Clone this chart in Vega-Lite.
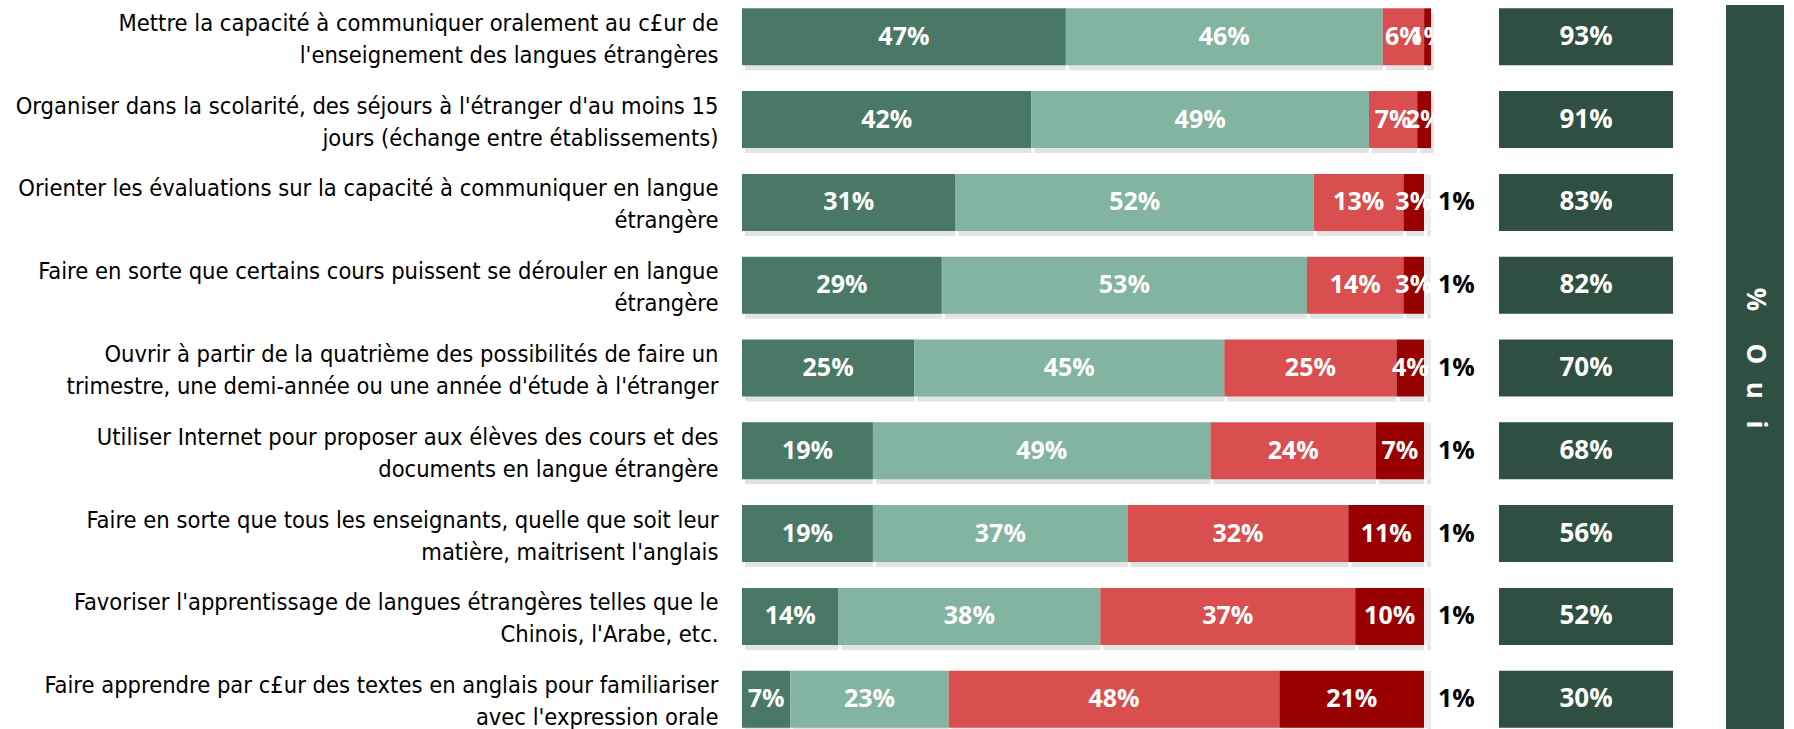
{
  "$schema": "https://vega.github.io/schema/vega-lite/v6.json",
  "padding": {"left": 15, "top": 5, "right": 0, "bottom": 0},
  "background": "white",
  "config": {"view": {"stroke": null}, "font": "Open Sans"},
  "datasets": {
    "rows": [
      {"item": "Mettre la capacité à communiquer oralement au c£ur de|l'enseignement des langues étrangères", "tout": 0.47, "plutot": 0.46, "plutotpas": 0.06, "pasdutout": 0.01, "nsp": 0, "total": 0.93},
      {"item": "Organiser dans la scolarité, des séjours à l'étranger d'au moins 15|jours (échange entre établissements)", "tout": 0.42, "plutot": 0.49, "plutotpas": 0.07, "pasdutout": 0.02, "nsp": 0, "total": 0.91},
      {"item": "Orienter les évaluations sur la capacité à communiquer en langue|étrangère", "tout": 0.31, "plutot": 0.52, "plutotpas": 0.13, "pasdutout": 0.03, "nsp": 0.01, "total": 0.83},
      {"item": "Faire en sorte que certains cours puissent se dérouler en langue|étrangère", "tout": 0.29, "plutot": 0.53, "plutotpas": 0.14, "pasdutout": 0.03, "nsp": 0.01, "total": 0.82},
      {"item": "Ouvrir à partir de la quatrième des possibilités de faire un|trimestre, une demi-année ou une année d'étude à l'étranger", "tout": 0.25, "plutot": 0.45, "plutotpas": 0.25, "pasdutout": 0.04, "nsp": 0.01, "total": 0.70},
      {"item": "Utiliser Internet pour proposer aux élèves des cours et des|documents en langue étrangère", "tout": 0.19, "plutot": 0.49, "plutotpas": 0.24, "pasdutout": 0.07, "nsp": 0.01, "total": 0.68},
      {"item": "Faire en sorte que tous les enseignants, quelle que soit leur|matière, maitrisent l'anglais", "tout": 0.19, "plutot": 0.37, "plutotpas": 0.32, "pasdutout": 0.11, "nsp": 0.01, "total": 0.56},
      {"item": "Favoriser l'apprentissage de langues étrangères telles que le|Chinois, l'Arabe, etc.", "tout": 0.14, "plutot": 0.38, "plutotpas": 0.37, "pasdutout": 0.10, "nsp": 0.01, "total": 0.52},
      {"item": "Faire apprendre par c£ur des textes en anglais pour familiariser|avec l'expression orale", "tout": 0.07, "plutot": 0.23, "plutotpas": 0.48, "pasdutout": 0.21, "nsp": 0.01, "total": 0.30}
    ]
  },
  "spacing": 53,
  "hconcat": [
    {
      "spacing": 6,
      "hconcat": [
        {
          "width": 751,
          "height": 726,
          "data": {"name": "rows"},
          "transform": [
            {"fold": ["tout", "plutot", "plutotpas", "pasdutout", "nsp"], "as": ["cat", "v"]},
            {"stack": "v", "groupby": ["item"], "as": ["x0", "x1"]}
          ],
          "encoding": {
            "y": {
              "field": "item",
              "type": "nominal",
              "sort": null,
              "scale": {"paddingInner": 0.312, "paddingOuter": 0.04},
              "axis": {
                "title": null,
                "domain": false,
                "ticks": false,
                "labelExpr": "split(datum.label, '|')",
                "labelFont": "DejaVu Sans Condensed, Roboto",
                "labelFontSize": 23.5,
                "labelLineHeight": 32,
                "labelOffset": -13,
                "labelColor": "#000000",
                "labelPadding": 24,
                "labelLimit": 900
              }
            }
          },
          "layer": [
            {
              "mark": {"type": "bar", "color": "#808080", "opacity": 0.22, "yOffset": 5, "xOffset": 3},
              "encoding": {
                "x": {"field": "x0", "type": "quantitative", "scale": {"domain": [0, 1.09], "nice": false, "zero": true}, "axis": null},
                "x2": {"field": "x1"}
              }
            },
            {
              "mark": {"type": "bar"},
              "encoding": {
                "x": {"field": "x0", "type": "quantitative", "scale": {"domain": [0, 1.09], "nice": false, "zero": true}, "axis": null},
                "x2": {"field": "x1"},
                "color": {
                  "field": "cat",
                  "type": "nominal",
                  "scale": {"domain": ["tout", "plutot", "plutotpas", "pasdutout", "nsp"], "range": ["#497867", "#82b4a1", "#d94f50", "#990000", "#ececec"]},
                  "legend": null
                }
              }
            },
            {
              "transform": [
                {"filter": "datum.cat != 'nsp'"},
                {"fold": ["x0", "x1"], "as": ["edge", "pos"]},
                {"aggregate": [{"op": "mean", "field": "pos", "as": "xm"}], "groupby": ["item", "cat", "v"]}
              ],
              "mark": {"type": "text", "color": "white", "fontWeight": "bold", "fontSize": 25, "align": "center", "baseline": "middle"},
              "encoding": {
                "x": {"field": "xm", "type": "quantitative", "scale": {"domain": [0, 1.09], "nice": false, "zero": true}, "axis": null},
                "text": {"field": "v", "type": "quantitative", "format": ".0%"}
              }
            },
            {
              "transform": [{"filter": "datum.cat == 'nsp' && datum.v > 0"}],
              "mark": {"type": "text", "color": "black", "fontWeight": "bold", "fontSize": 25, "align": "left", "baseline": "middle", "dx": 7},
              "encoding": {
                "x": {"field": "x1", "type": "quantitative", "scale": {"domain": [0, 1.09], "nice": false, "zero": true}, "axis": null},
                "text": {"field": "v", "type": "quantitative", "format": ".0%"}
              }
            }
          ]
        },
        {
          "width": 174,
          "height": 726,
          "data": {"name": "rows"},
          "encoding": {
            "y": {"field": "item", "type": "nominal", "sort": null, "scale": {"paddingInner": 0.312, "paddingOuter": 0.04}, "axis": null}
          },
          "layer": [
            {
              "mark": {"type": "rect", "color": "#2f4f43"},
              "encoding": {
                "x": {"datum": 0, "type": "quantitative", "scale": {"domain": [0, 1]}, "axis": null},
                "x2": {"datum": 1}
              }
            },
            {
              "mark": {"type": "text", "color": "white", "fontWeight": "bold", "fontSize": 26, "align": "center", "baseline": "middle"},
              "encoding": {
                "x": {"datum": 0.5, "type": "quantitative"},
                "text": {"field": "total", "type": "quantitative", "format": ".0%"}
              }
            }
          ]
        }
      ]
    },
    {
      "width": 58,
      "height": 724,
      "data": {"values": [{"t": "%\u2002\u2002\u2005O\u2002\u2006u\u2002\u2004i"}]},
      "layer": [
        {
          "mark": {"type": "rect", "color": "#2f4f43"},
          "encoding": {
            "x": {"datum": 0, "type": "quantitative", "scale": {"domain": [0, 1]}, "axis": null},
            "x2": {"datum": 1},
            "y": {"datum": 0, "type": "quantitative", "scale": {"domain": [0, 1]}, "axis": null},
            "y2": {"datum": 1}
          }
        },
        {
          "mark": {"type": "text", "angle": 90, "color": "white", "fontSize": 26, "fontWeight": "bold", "align": "center", "baseline": "middle", "dx": -9},
          "encoding": {
            "x": {"datum": 0.5, "type": "quantitative"},
            "y": {"datum": 0.5, "type": "quantitative"},
            "text": {"field": "t"}
          }
        }
      ]
    }
  ]
}
